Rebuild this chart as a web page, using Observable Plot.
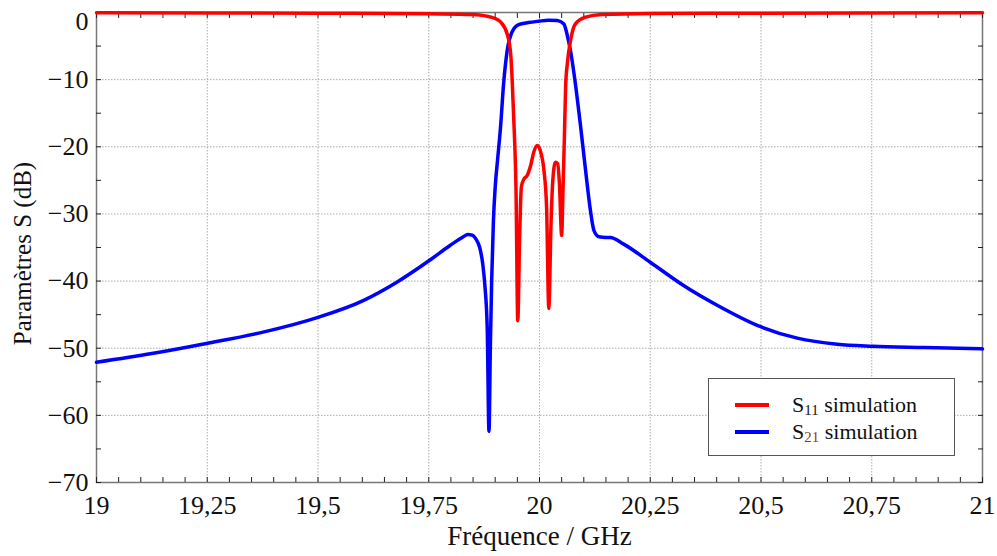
<!DOCTYPE html>
<html>
<head>
<meta charset="utf-8">
<script src="https://cdn.jsdelivr.net/npm/d3@7"></script>
<script src="https://cdn.jsdelivr.net/npm/@observablehq/plot@0.6"></script>
<style>
  html, body { margin: 0; padding: 0; background: #fff; }
  #wrap { position: relative; width: 997px; height: 556px; font-family: 'Liberation Serif'; }
  #legend { position: absolute; left: 708px; top: 378px; width: 247px; height: 78px; border: 1px solid #555; background: #fff; box-sizing: border-box; font-family: 'Liberation Serif'; }
  .row { position: absolute; left: 0; height: 26px; display: flex; align-items: center; font-size: 22px; color: #111; font-family: 'Liberation Serif'; }
  .sw { display: inline-block; width: 34px; height: 4px; margin-left: 26px; margin-right: 23px; }
  sub { font-size: 0.68em; vertical-align: -0.2em; line-height: 0; }
</style>
</head>
<body>
<div id="wrap">
  <div id="chart"></div>
  <div id="legend"></div>
</div>
<script>
// Frequencies (GHz) and S-parameters (dB)
const s21Freq = [19.0, 19.125, 19.248, 19.376, 19.5, 19.602, 19.677, 19.752, 19.798, 19.828, 19.838, 19.848, 19.857, 19.865, 19.872, 19.877, 19.882, 19.886, 19.889, 19.892, 19.896, 19.900, 19.906, 19.912, 19.919, 19.927, 19.938, 19.953, 19.975, 19.998, 20.020, 20.040, 20.055, 20.062, 20.070, 20.081, 20.093, 20.104, 20.115, 20.123, 20.134, 20.150, 20.160, 20.190, 20.25, 20.326, 20.401, 20.499, 20.582, 20.672, 20.751, 20.868, 21.0];
const s21dB   = [-52.1, -50.8, -49.3, -47.6, -45.4, -42.9, -40.2, -36.9, -34.7, -33.4, -33.05, -33.15, -33.8, -35.0, -37.5, -40.9, -47.0, -62.4, -50.0, -40.0, -31.0, -26.0, -21.5, -17.1, -10.6, -5.7, -2.9, -1.8, -1.5, -1.3, -1.15, -1.2, -1.7, -3.2, -5.7, -10.6, -17.1, -23.5, -29.5, -32.5, -33.4, -33.5, -33.5, -34.5, -37.2, -40.7, -43.6, -46.8, -48.5, -49.4, -49.7, -49.9, -50.1];

const s11Freq = [19.0, 19.5, 19.75, 19.85, 19.878, 19.900, 19.912, 19.927, 19.935, 19.938, 19.942, 19.947, 19.951, 19.955, 19.959, 19.965, 19.972, 19.980, 19.987, 19.995, 20.002, 20.010, 20.016, 20.021, 20.026, 20.030, 20.036, 20.041, 20.045, 20.050, 20.053, 20.056, 20.059, 20.063, 20.070, 20.081, 20.104, 20.141, 20.25, 20.5, 21.0];
const s11dB   = [-0.05, -0.1, -0.2, -0.3, -0.5, -0.9, -1.4, -3.2, -6.2, -9.6, -16.0, -26.5, -45.9, -34.0, -26.0, -24.8, -24.3, -22.8, -20.8, -19.8, -20.6, -23.5, -29.0, -44.1, -31.5, -25.0, -22.3, -22.5, -25.5, -33.2, -26.5, -19.1, -11.0, -7.5, -4.2, -1.7, -0.7, -0.3, -0.15, -0.1, -0.05];

const seriesNames = ["S11 simulation", "S21 simulation"];
const seriesColors = ["#ff0000", "#0000ff"];

const xMajor = [19, 19.25, 19.5, 19.75, 20, 20.25, 20.5, 20.75, 21];
const xMinor = d3.range(0, 41).map(i => 19 + i * 0.05);
const yMajor = [-70, -60, -50, -40, -30, -20, -10, 0];
const yMinor = d3.range(0, 15).map(i => -70 + i * 5);

const s11 = s11Freq.map((f, i) => ({f, v: s11dB[i]}));
const s21 = s21Freq.map((f, i) => ({f, v: s21dB[i]}));

const fmtX = d => String(d).replace(".", ",");
const fmtY = d => d < 0 ? "\u2212" + (-d) : String(d);
const FONT = "Liberation Serif";

const plot = Plot.plot({
  width: 997,
  height: 556,
  marginLeft: 96,
  marginRight: 15,
  marginTop: 12,
  marginBottom: 74,
  style: {fontFamily: FONT, fontSize: "24px", color: "#111", background: "#fff"},
  x: {domain: [19, 21]},
  y: {domain: [-70, 0]},
  marks: [
    Plot.gridX(xMajor, {stroke: "#999", strokeOpacity: 0.8, strokeDasharray: "1.5,1.5"}),
    Plot.gridY(yMajor, {stroke: "#999", strokeOpacity: 0.8, strokeDasharray: "1.5,1.5"}),
    Plot.frame({stroke: "#777", strokeWidth: 1.5}),
    Plot.axisX({anchor: "bottom", ticks: xMinor, tickSize: -5, tickFormat: () => "", label: null, stroke: "#222"}),
    Plot.axisX({anchor: "top", ticks: xMinor, tickSize: -5, tickFormat: () => "", label: null, stroke: "#222"}),
    Plot.axisY({anchor: "left", ticks: yMinor, tickSize: -5, tickFormat: () => "", label: null, stroke: "#222"}),
    Plot.axisY({anchor: "right", ticks: yMinor, tickSize: -5, tickFormat: () => "", label: null, stroke: "#222"}),
    Plot.axisX({anchor: "bottom", ticks: xMajor, tickSize: 0, tickPadding: 13, tickFormat: fmtX, label: null, fontSize: 26}),
    Plot.axisY({anchor: "left", ticks: yMajor.filter(d => d < 0), tickSize: 0, tickPadding: 8, tickFormat: fmtY, label: null, fontSize: 26}),
    Plot.axisY({anchor: "left", ticks: [0], tickSize: 0, tickPadding: 8, tickFormat: fmtY, label: null, fontSize: 26, dy: 9}),
    Plot.line(s21, {x: "f", y: "v", stroke: seriesColors[1], strokeWidth: 3.5, curve: "monotone-x"}),
    Plot.line(s11, {x: "f", y: "v", stroke: seriesColors[0], strokeWidth: 3.5, curve: "monotone-x"}),
    Plot.text(["Fréquence / GHz"], {frameAnchor: "bottom", dy: 62, fontSize: 27, fill: "#111", textAnchor: "middle"}),
    Plot.text(["Paramètres S (dB)"], {frameAnchor: "left", dx: -74, dy: 6, rotate: -90, fontSize: 25, fill: "#111", textAnchor: "middle"})
  ]
});
d3.select(plot).attr("font-family", FONT).style("font-family", FONT);
d3.select(plot).selectAll("text, g").attr("font-family", FONT).style("font-family", FONT);
document.getElementById("chart").appendChild(plot);

// Legend
const legend = document.getElementById("legend");
const subs = ["11", "21"];
const subColors = ["#111", "#8a3f10"];
seriesNames.forEach((name, i) => {
  const row = document.createElement("div");
  row.className = "row";
  row.style.top = (13 + i * 27) + "px";
  const sw = document.createElement("span");
  sw.className = "sw";
  sw.style.background = seriesColors[i];
  row.appendChild(sw);
  const txt = document.createElement("span");
  txt.innerHTML = `S<sub style="color:${subColors[i]}">${subs[i]}</sub> ${name.split(" ")[1]}`;
  row.appendChild(txt);
  legend.appendChild(row);
});
</script>
</body>
</html>
